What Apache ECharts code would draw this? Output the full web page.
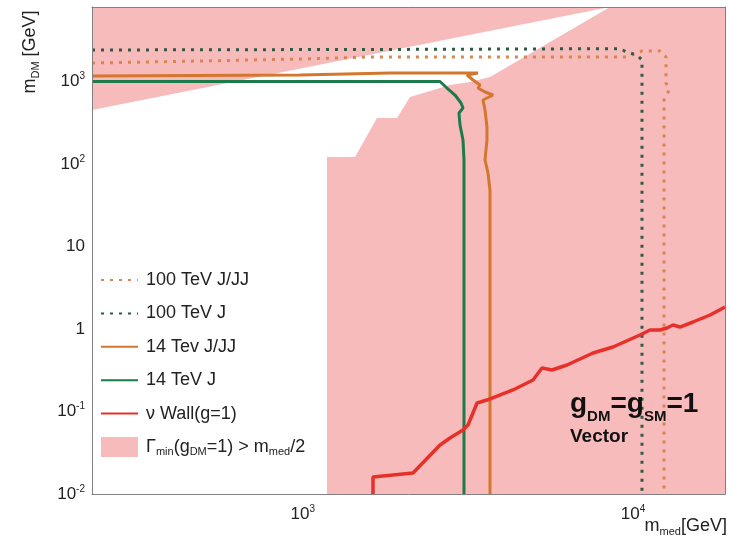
<!DOCTYPE html>
<html>
<head>
<meta charset="utf-8">
<script src="https://cdn.jsdelivr.net/npm/echarts@6/dist/echarts.min.js"></script>
<style>
html,body{margin:0;padding:0;background:#fff;}
#chart{width:731px;height:539px;}
</style>
</head>
<body>
<div id="chart"></div>
<script>
// ---- data ----
const xRange = [230, 19000];
const yRange = [0.01, 8000];
const yTickValues = [0.01, 0.1, 1, 10, 100, 1000];
const yTickLabels = ['10{sup|-2}', '10{sup|-1}', '1', '10', '10{sup|2}', '10{sup|3}'];
const xTickValues = [1000, 10000];
const xTickLabels = ['10{sup|3}', '10{sup|4}'];

const seriesNames = ['100 TeV J/JJ', '100 TeV J', '14 Tev J/JJ', '14 TeV J', 'ν Wall(g=1)', 'Γmin(gDM=1) > mmed/2'];

// 100 TeV J/JJ (dotted orange)
const orange100 = [[230,1675],[489,1772],[981,1874],[1598,1983],[9592,1983],[10650,2343],[12075,2343],[12590,1983],[12590,959],[12860,789],[12420,597],[12420,0.01]];
// 100 TeV J (dotted green)
const green100 = [[230,2410],[1970,2450],[9130,2500],[9590,2279],[10280,2096],[10650,1822],[10650,0.01]];
// 14 TeV J/JJ (solid orange)
const orange14 = [[230,1166],[981,1199],[1838,1268],[3394,1268],[3144,1199],[3279,1043],[3442,907],[3394,834],[3564,746],[3769,686],[3613,631],[3514,597],[3564,451],[3613,281],[3613,195],[3564,112],[3639,77.8],[3690,48.4],[3690,0.01]];
// 14 TeV J (solid green)
const green14 = [[230,1000],[2604,1000],[2734,834],[2891,686],[3015,549],[3057,477],[2973,415],[2994,297],[3057,195],[3078,112],[3078,0.01]];
// nu wall (red)
const redWall = [[1632,0.01],[1632,0.01607],[2157,0.01797],[2604,0.03926],[2792,0.04775],[3056,0.0597],[3166,0.0686],[3371,0.1268],[3613,0.1378],[4331,0.1823],[4980,0.2408],[5302,0.3366],[5684,0.3184],[6314,0.3661],[7568,0.5117],[8700,0.6049],[10500,0.8455],[11260,0.972],[12070,0.972],[12680,1.028],[13220,1.118],[13880,1.057],[15200,1.216],[17120,1.478],[19000,1.848]];
// excluded region Gamma_min > m_med/2 (pink polygon)
const pinkRegion = [[230,451],[8520,8000],[3690,1134],[3210,986],[2792,907],[2112,649],[1930,361],[1678,361],[1440,122],[1184,122],[1184,0.01],[19000,0.01],[19000,8000],[230,8000]];

// ---- styles ----
const C = {
  orange: '#D5762E', green: '#1D7A4A', orangeDot: '#D98552', greenDot: '#2C5A43',
  red: '#E8302A', pink: '#F8BBBB', axis: '#808080', text: '#222'
};
const FONT = 'Liberation Sans, Arial, Helvetica, sans-serif';

// builds '{b|10}{sup|3}' style strings
function richLabel(values, labels) {
  return function (v) {
    for (let i = 0; i < values.length; i++) {
      if (Math.abs(Math.log10(v) - Math.log10(values[i])) < 1e-6) {
        const s = labels[i];
        const k = s.indexOf('{sup|');
        if (k < 0) return '{b|' + s + '}';
        return '{b|' + s.slice(0, k) + '}' + s.slice(k);
      }
    }
    return '';
  };
}
const labelRich = {
  b: { fontSize: 17, lineHeight: 20, color: C.text, fontFamily: FONT, verticalAlign: 'middle' },
  sup: { fontSize: 10, lineHeight: 10, color: C.text, fontFamily: FONT, verticalAlign: 'top' }
};

const chart = echarts.init(document.getElementById('chart'), null, { renderer: 'canvas' });

function lineSeries(name, data, color, width, dotted) {
  return {
    type: 'line', name: name, data: data, symbol: 'none', smooth: false,
    lineStyle: { color: color, width: width, type: dotted ? [3, 6] : 'solid' },
    itemStyle: { color: color },
    z: 3, silent: true, animation: false
  };
}

const option = {
  animation: false,
  backgroundColor: '#fff',
  textStyle: { fontFamily: FONT },
  grid: { left: 92, right: 6, top: 7, bottom: 45, containLabel: false },
  xAxis: [{
    type: 'log', logBase: 10, min: xRange[0], max: xRange[1], z: 10,
    axisLine: { show: true, lineStyle: { color: C.axis, width: 1 } },
    axisTick: { show: false }, minorTick: { show: false }, splitLine: { show: false },
    axisLabel: { margin: 10, formatter: richLabel(xTickValues, xTickLabels), rich: labelRich, hideOverlap: false }
  }, {
    type: 'log', logBase: 10, min: xRange[0], max: xRange[1], position: 'top', z: 10,
    axisLine: { show: true, onZero: false, lineStyle: { color: C.axis, width: 1 } },
    axisTick: { show: false }, axisLabel: { show: false }, splitLine: { show: false }
  }],
  yAxis: [{
    type: 'log', logBase: 10, min: yRange[0], max: yRange[1], z: 10,
    axisLine: { show: true, lineStyle: { color: C.axis, width: 1 } },
    axisTick: { show: false }, minorTick: { show: false }, splitLine: { show: false },
    axisLabel: { margin: 7, formatter: richLabel(yTickValues, yTickLabels), rich: labelRich, hideOverlap: false }
  }, {
    type: 'log', logBase: 10, min: yRange[0], max: yRange[1], position: 'right', z: 10,
    axisLine: { show: true, onZero: false, lineStyle: { color: C.axis, width: 1 } },
    axisTick: { show: false }, axisLabel: { show: false }, splitLine: { show: false }
  }],
  legend: {
    orient: 'vertical', left: 100, top: 270, padding: 0,
    itemWidth: 37, itemHeight: 20, itemGap: 13.4,
    selectedMode: false,
    itemStyle: { opacity: 0 },
    data: [
      { name: seriesNames[0] }, { name: seriesNames[1] }, { name: seriesNames[2] },
      { name: seriesNames[3] }, { name: seriesNames[4] },
      { name: seriesNames[5], icon: 'rect', itemStyle: { opacity: 1, color: C.pink } }
    ],
    textStyle: {
      fontSize: 18, color: C.text, fontFamily: FONT, padding: [0, 0, 0, 3],
      lineHeight: 20, height: 20,
      rich: {
        n: { fontSize: 18, lineHeight: 20, height: 20, color: C.text, fontFamily: FONT, verticalAlign: 'middle' },
        s: { fontSize: 11, lineHeight: 11, color: C.text, fontFamily: FONT, verticalAlign: 'bottom' }
      }
    },
    formatter: function (name) {
      if (name === seriesNames[5]) {
        return '{n|Γ}{s|min}{n|(g}{s|DM}{n|=1) > m}{s|med}{n|/2}';
      }
      return '{n|' + name + '}';
    }
  },
  series: [
    {
      type: 'custom', name: seriesNames[5], coordinateSystem: 'cartesian2d',
      data: pinkRegion, clip: true, silent: true, z: 1,
      itemStyle: { color: C.pink },
      renderItem: function (params, api) {
        if (params.dataIndex !== 0) return null;
        const pts = pinkRegion.map(function (p) { return api.coord(p); });
        return { type: 'polygon', shape: { points: pts }, style: { fill: C.pink, stroke: null } };
      }
    },
    lineSeries(seriesNames[0], orange100, C.orangeDot, 3, true),
    lineSeries(seriesNames[1], green100, C.greenDot, 3, true),
    lineSeries(seriesNames[2], orange14, C.orange, 3, false),
    lineSeries(seriesNames[3], green14, C.green, 3, false),
    lineSeries(seriesNames[4], redWall, C.red, 3.5, false)
  ],
  graphic: [
    {
      type: 'text', x: 30, y: 52, rotation: Math.PI / 2, z: 20,
      style: {
        text: '{m|m}{s|DM}{m| [GeV]}', align: 'center', verticalAlign: 'middle',
        rich: {
          m: { fontSize: 18, lineHeight: 22, fill: C.text, fontFamily: FONT, verticalAlign: 'middle' },
          s: { fontSize: 11, lineHeight: 11, fill: C.text, fontFamily: FONT, verticalAlign: 'bottom' }
        }
      }
    },
    {
      type: 'text', x: 727, y: 526, z: 20,
      style: {
        text: '{m|m}{s|med}{m|[GeV]}', align: 'right', verticalAlign: 'middle',
        rich: {
          m: { fontSize: 18, lineHeight: 22, fill: C.text, fontFamily: FONT, verticalAlign: 'middle' },
          s: { fontSize: 11, lineHeight: 11, fill: C.text, fontFamily: FONT, verticalAlign: 'bottom' }
        }
      }
    },
    {
      type: 'text', x: 570, y: 404, z: 20,
      style: {
        text: '{g|g}{s|DM}{g|=g}{s|SM}{g|=1}', align: 'left', verticalAlign: 'middle',
        rich: {
          g: { fontSize: 28, fontWeight: 'bold', lineHeight: 40, fill: '#111', fontFamily: FONT, verticalAlign: 'middle' },
          s: { fontSize: 15, fontWeight: 'bold', lineHeight: 12, fill: '#111', fontFamily: FONT, verticalAlign: 'bottom' }
        }
      }
    },
    {
      type: 'text', x: 570, y: 437, z: 20,
      style: { text: 'Vector', font: 'bold 19px ' + FONT, fill: '#111', align: 'left', verticalAlign: 'middle' }
    }
  ]
};
chart.setOption(option);
</script>
</body>
</html>
